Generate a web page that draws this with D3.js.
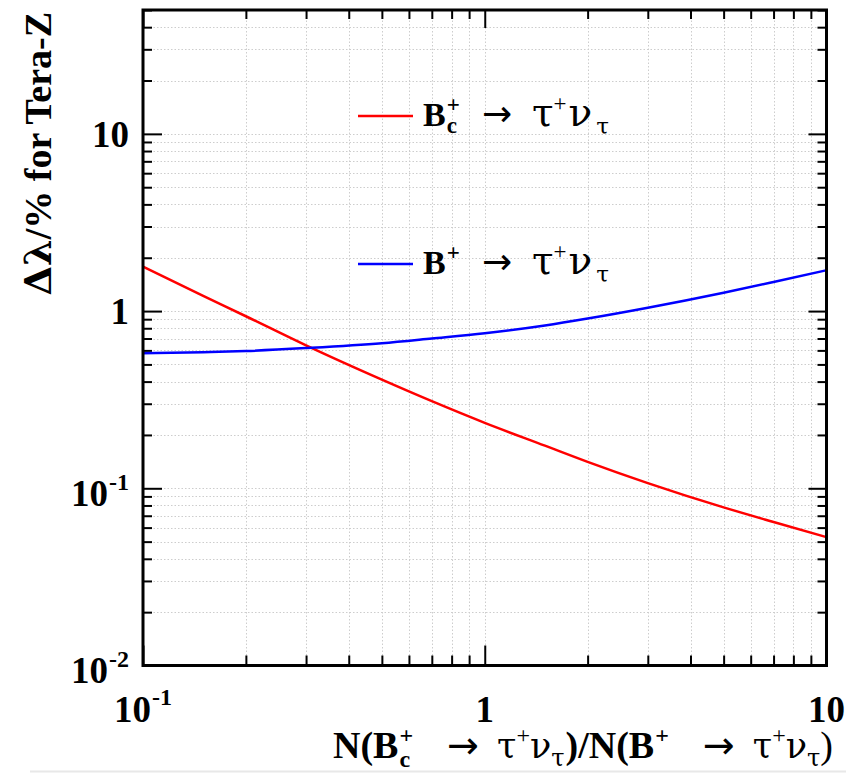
<!DOCTYPE html>
<html>
<head>
<meta charset="utf-8">
<script src="https://cdn.jsdelivr.net/npm/d3@7"></script>
<style>
  html, body { margin: 0; padding: 0; background: #fff; }
  svg { display: block; }
</style>
</head>
<body>
<svg id="chart" width="846" height="774"></svg>
<script>
// ---------------- data ----------------
const ratioValues = [0.1, 0.15, 0.2, 0.3, 0.5, 0.7, 1, 1.5, 2, 3, 5, 7, 10];
const bcTauNu    = [1.78, 1.22, 0.935, 0.64, 0.41, 0.31, 0.234, 0.174, 0.141, 0.107, 0.078, 0.0645, 0.053];
const bTauNu     = [0.578, 0.586, 0.595, 0.618, 0.658, 0.700, 0.750, 0.830, 0.908, 1.045, 1.27, 1.46, 1.70];
const xTickLabels = [{v: 0.1, base: "10", exp: "-1"}, {v: 1, base: "1", exp: ""}, {v: 10, base: "10", exp: ""}];
const yTickLabels = [{v: 0.01, base: "10", exp: "-2"}, {v: 0.1, base: "10", exp: "-1"}, {v: 1, base: "1", exp: ""}, {v: 10, base: "10", exp: ""}];
const seriesColors = ["#ff0000", "#0000ff"];

// ---------------- layout ----------------
const FONT = '"Liberation Serif", "Times New Roman", Times, serif';
const GREEK = '"DejaVu Serif", serif';
const ARROW = '"DejaVu Sans", sans-serif';
const svg = d3.select("#chart");
const L = 143, R = 826.5, T = 10, B = 665.5;

const x = d3.scaleLog().domain([0.1, 10]).range([L, R]);
const y = d3.scaleLog().domain([0.01, 50]).range([B, T]);

const isMajor = v => Math.abs(Math.log10(v) - Math.round(Math.log10(v))) < 1e-9;
const xAll = x.ticks();
const yAll = y.ticks();
const xMajor = xAll.filter(isMajor), xMinor = xAll.filter(v => !isMajor(v));
const yMajor = yAll.filter(isMajor), yMinor = yAll.filter(v => !isMajor(v));

// faint bottom border line of the picture
svg.append("line").attr("x1", 30).attr("x2", 846).attr("y1", 771.5).attr("y2", 771.5)
  .attr("stroke", "#e8e8e8").attr("stroke-width", 2);

// ---------------- grid ----------------
const grid = svg.append("g").attr("stroke", "#cdcdcd").attr("stroke-width", 1).attr("stroke-dasharray", "1.5,2");
grid.selectAll("line.gx").data(xAll.filter(v => v > 0.1 && v < 10)).join("line")
  .attr("x1", d => Math.round(x(d)) + 0.5).attr("x2", d => Math.round(x(d)) + 0.5)
  .attr("y1", T).attr("y2", B);
grid.selectAll("line.gy").data(yAll.filter(v => v > 0.01 && v < 50)).join("line")
  .attr("y1", d => Math.round(y(d)) + 0.5).attr("y2", d => Math.round(y(d)) + 0.5)
  .attr("x1", L).attr("x2", R);

// ---------------- ticks ----------------
function tickAxis(axisFn, scale, values, size, transform) {
  const g = svg.append("g").attr("transform", transform)
    .call(axisFn(scale).tickValues(values).tickSize(size).tickFormat(""));
  g.select(".domain").remove();
  g.selectAll(".tick line").attr("stroke", "#000").attr("stroke-width", 2);
  return g;
}
tickAxis(d3.axisBottom, x, xMinor, -10, `translate(0,${B})`);
tickAxis(d3.axisBottom, x, xMajor, -20, `translate(0,${B})`);
tickAxis(d3.axisTop, x, xMinor, -9, `translate(0,${T})`);
tickAxis(d3.axisTop, x, xMajor, -18, `translate(0,${T})`);
tickAxis(d3.axisLeft, y, yMinor, -9, `translate(${L},0)`);
tickAxis(d3.axisLeft, y, yMajor, -19, `translate(${L},0)`);
tickAxis(d3.axisRight, y, yMinor, -9, `translate(${R},0)`);
tickAxis(d3.axisRight, y, yMajor, -18, `translate(${R},0)`);

// ---------------- curves ----------------
const line = d3.line().x(d => x(d[0])).y(d => y(d[1])).curve(d3.curveMonotoneX);
[bcTauNu, bTauNu].forEach((vals, i) => {
  svg.append("path")
    .datum(ratioValues.map((r, k) => [r, vals[k]]))
    .attr("fill", "none")
    .attr("stroke", seriesColors[i])
    .attr("stroke-width", 2.5)
    .attr("d", line);
});

// frame
svg.append("rect").attr("x", L).attr("y", T).attr("width", R - L).attr("height", B - T)
  .attr("fill", "none").attr("stroke", "#000").attr("stroke-width", 3);

// ---------------- rich text helper ----------------
function rich(parent, x0, y0, pieces, anchor) {
  const g = parent.append("g");
  let cursor = 0, prevStart = 0;
  pieces.forEach(p => {
    const t = g.append("text")
      .attr("font-family", p.font || FONT)
      .attr("font-size", p.size)
      .attr("font-weight", p.bold ? "bold" : "normal")
      .attr("fill", "#000")
      .attr("y", y0 + (p.dy || 0))
      .text(p.t);
    const w = t.node().getComputedTextLength();
    let xx;
    if (p.stack) { xx = prevStart; cursor = Math.max(cursor, xx + w); }
    else if (p.at !== undefined) { xx = p.at - x0; cursor = xx + w; prevStart = xx; }
    else { xx = cursor + (p.gap || 0); cursor = xx + w; prevStart = xx; }
    t.attr("x", x0 + xx);
  });
  if (anchor === "end") g.attr("transform", `translate(${-cursor},0)`);
  else if (anchor === "middle") g.attr("transform", `translate(${-cursor / 2},0)`);
  return {g, width: cursor};
}

// ---------------- tick labels ----------------
const TL = 37, TS = 24;
yTickLabels.forEach(d => {
  const pcs = [{t: d.base, size: TL, bold: true}];
  if (d.exp) pcs.push({t: d.exp, size: TS, bold: true, dy: -16, gap: 1});
  rich(svg, 129, y(d.v) + (d.exp ? 17.5 : 13), pcs, "end");
});
xTickLabels.forEach(d => {
  const pcs = [{t: d.base, size: TL, bold: true}];
  if (d.exp) pcs.push({t: d.exp, size: TS, bold: true, dy: -17, gap: 1});
  rich(svg, x(d.v), 722, pcs, "middle");
});

// ---------------- axis titles ----------------
const yTitle = svg.append("text")
  .attr("font-family", FONT).attr("font-size", 38).attr("font-weight", "bold")
  .attr("text-anchor", "end")
  .attr("transform", `translate(51,${T + 2}) rotate(-90)`);
yTitle.append("tspan").attr("font-family", GREEK).text("Δλ");
yTitle.append("tspan").text("/% for Tera-Z");

// x title: natural layout, gaps around the arrows sized so the title spans 333 → 833
function xTitlePieces(g1, g2) {
  const S = 38, SS = 24, G = 35;
  return [
    {t: "N(B", size: S, bold: true},
    {t: "+", size: SS, bold: true, dy: -15, gap: 1},
    {t: "c", size: SS, bold: true, dy: 9, stack: true},
    {t: "→", size: 38, font: ARROW, gap: g1},
    {t: "τ", size: G, font: GREEK, gap: g2},
    {t: "+", size: SS, dy: -15},
    {t: "ν", size: G, font: GREEK},
    {t: "τ", size: SS, font: GREEK, dy: 8},
    {t: ")/N(B", size: S, bold: true, gap: 1},
    {t: "+", size: SS, bold: true, dy: -15, gap: 1},
    {t: "→", size: 38, font: ARROW, gap: g1},
    {t: "τ", size: G, font: GREEK, gap: g2},
    {t: "+", size: SS, dy: -15},
    {t: "ν", size: G, font: GREEK},
    {t: "τ", size: SS, font: GREEK, dy: 8},
    {t: ")", size: S}
  ];
}
const probe = rich(svg, 0, -100, xTitlePieces(0, 0), "start");
const natural = probe.width;
probe.g.remove();
const extra = Math.max(0, 500 - natural) / 2;
rich(svg, 333, 758, xTitlePieces(extra * 0.65, extra * 0.35), "start");

// ---------------- legend ----------------
const legendRows = [
  {y: 116, color: seriesColors[0], sub: "c"},
  {y: 264, color: seriesColors[1], sub: ""}
];
legendRows.forEach(r => {
  svg.append("line").attr("x1", 358).attr("x2", 413).attr("y1", r.y).attr("y2", r.y)
    .attr("stroke", r.color).attr("stroke-width", 2.5);
  const LS = 34, LSS = 23, LG = 39;
  const pcs = [
    {t: "B", size: LS, bold: true},
    {t: "+", size: LSS, bold: true, dy: -14, gap: 1}
  ];
  if (r.sub) pcs.push({t: r.sub, size: LSS, bold: true, dy: 7, stack: true});
  pcs.push(
    {t: "→", size: 36, font: ARROW, at: 482},
    {t: "τ", size: LG, font: GREEK, at: 532},
    {t: "+", size: LSS, dy: -15},
    {t: "ν", size: LG, font: GREEK, gap: 2},
    {t: "τ", size: LSS, font: GREEK, dy: 8, gap: 4}
  );
  rich(svg, 423, r.y + 10, pcs, "start");
});
</script>
</body>
</html>
